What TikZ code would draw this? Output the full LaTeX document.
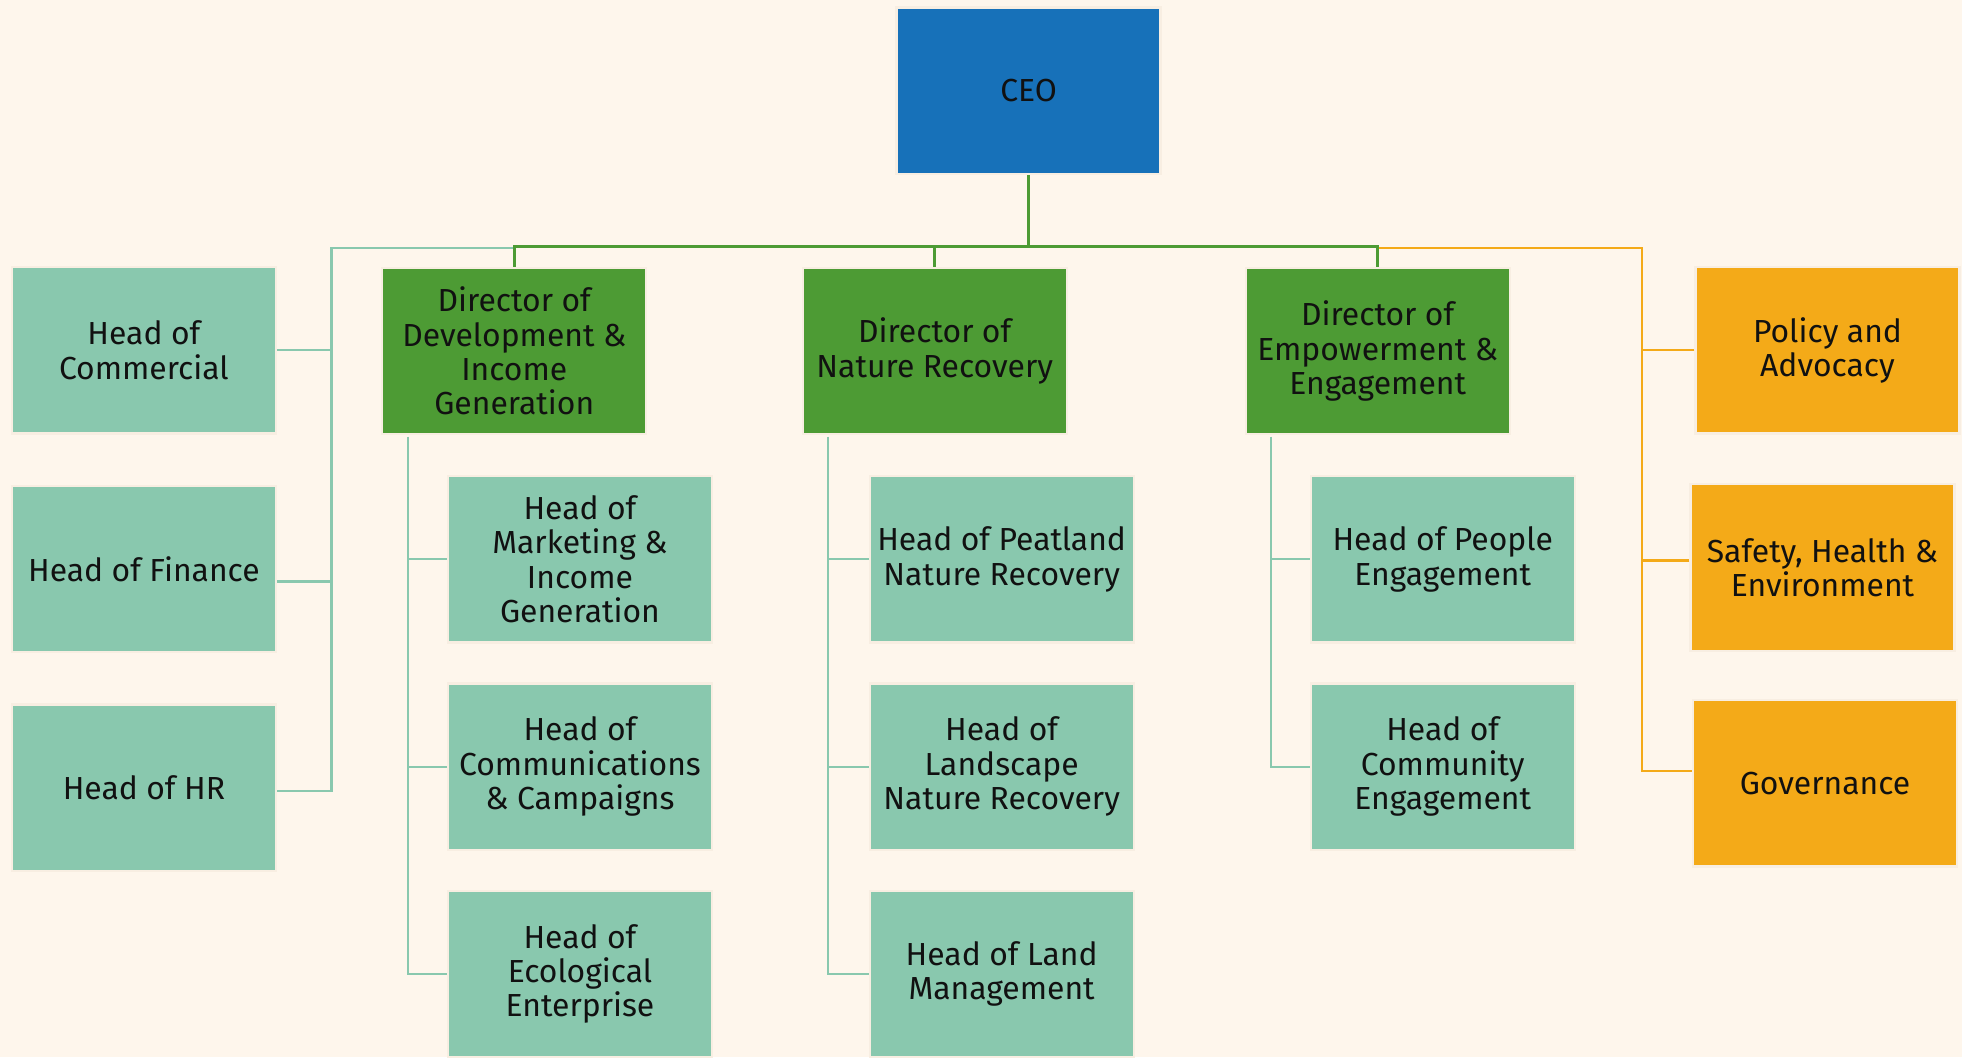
\documentclass[tikz,border=0pt]{standalone}
\usepackage{fontspec}
\setmainfont{Fira Sans}
\usetikzlibrary{positioning}

\definecolor{paper}{HTML}{FEF6EC}
\definecolor{boxedge}{HTML}{F8EEE2}
\definecolor{ceoblue}{HTML}{1771B9}
\definecolor{dirgreen}{HTML}{4D9B34}
\definecolor{headteal}{HTML}{89C8AE}
\definecolor{advorange}{HTML}{F4AA18}
\definecolor{inktext}{HTML}{111111}

\tikzset{
  unit/.style={rectangle, draw=boxedge, line width=1pt, minimum width=4.22cm, minimum height=2.66cm,
    inner sep=1pt, align=center, text=inktext, font=\fontsize{14.5}{15.6}\selectfont},
  ceobox/.style={unit, fill=ceoblue},
  dirbox/.style={unit, fill=dirgreen},
  headbox/.style={unit, fill=headteal},
  advbox/.style={unit, fill=advorange},
  dirline/.style={draw=dirgreen, line width=1.6pt},
  headline/.style={draw=headteal, line width=1pt},
  advline/.style={draw=advorange, line width=1pt}
}

\begin{document}
\begin{tikzpicture}[x=0.02cm, y=-0.02cm]
\fill [paper] (0,0) rectangle (1568,845);
\useasboundingbox (0,0) rectangle (1568,845);

\node [ceobox] (ceo) at (822,72.5) {CEO};
% directors
\node [dirbox] (dev) at (411,280.5) {Director of\\Development \&\\Income\\Generation};
\node [dirbox] (nat) at (747,280.5) {Director of\\Nature Recovery};
\node [dirbox] (emp) at (1101,280.5) {Director of\\Empowerment \&\\Engagement};
% left column
\node [headbox] (com) at (115,280) {Head of\\Commercial};
\node [headbox, below=0.8cm of com] (fin) {Head of Finance};
\node [headbox, below=0.8cm of fin] (hr) {Head of HR};
% under development
\node [headbox] (mkt) at (463.5,447) {Head of\\Marketing \&\\Income\\Generation};
\node [headbox, below=0.62cm of mkt] (cmp) {Head of\\Communications\\\& Campaigns};
\node [headbox, below=0.62cm of cmp] (eco) {Head of\\Ecological\\Enterprise};
% under nature recovery
\node [headbox] (pea) at (800.5,447) {Head of Peatland\\Nature Recovery};
\node [headbox, below=0.62cm of pea] (lsc) {Head of\\Landscape\\Nature Recovery};
\node [headbox, below=0.62cm of lsc] (lnd) {Head of Land\\Management};
% under empowerment
\node [headbox] (ppl) at (1153,447) {Head of People\\Engagement};
\node [headbox, below=0.62cm of ppl] (cty) {Head of\\Community\\Engagement};
% right column
\node [advbox] (pol) at (1460.5,280) {Policy and\\Advocacy};
\node [advbox] (saf) at (1456.5,453.5) {Safety, Health \&\\Environment};
\node [advbox] (gov) at (1458.5,626) {Governance};

\coordinate (bus) at (822,197);
\coordinate (lspine) at (265,198);
\coordinate (rspine) at (1312,198);
\coordinate (dspine) at (326,349);
\coordinate (nspine) at (662,349);
\coordinate (espine) at (1016,349);

\draw [headline] (dev.north |- lspine) -- (lspine) |- ([yshift=-0.06cm]hr.east);
\draw [headline] (com.east) -- (com.east -| lspine);
\draw [headline] ([yshift=-0.2cm]fin.east) -- ([yshift=-0.2cm]fin.east -| lspine);
\draw [advline] (emp.north |- rspine) -- (rspine) |- ([yshift=0.2cm]gov.west);
\draw [advline] (pol.west) -- (pol.west -| rspine);
\draw [advline] ([yshift=0.11cm]saf.west) -- ([yshift=0.11cm]saf.west -| rspine);

\draw [dirline] (ceo.south) -- (bus);
\draw [dirline] (dev.north) |- (bus) -| (emp.north);
\draw [dirline] (nat.north) -- (nat.north |- bus);

\draw [headline] (dspine) |- (eco.west);
\draw [headline] (mkt.west) -- (mkt.west -| dspine);
\draw [headline] (cmp.west) -- (cmp.west -| dspine);
\draw [headline] (nspine) |- (lnd.west);
\draw [headline] (pea.west) -- (pea.west -| nspine);
\draw [headline] (lsc.west) -- (lsc.west -| nspine);
\draw [headline] (espine) |- (cty.west);
\draw [headline] (ppl.west) -- (ppl.west -| espine);
\end{tikzpicture}
\end{document}
